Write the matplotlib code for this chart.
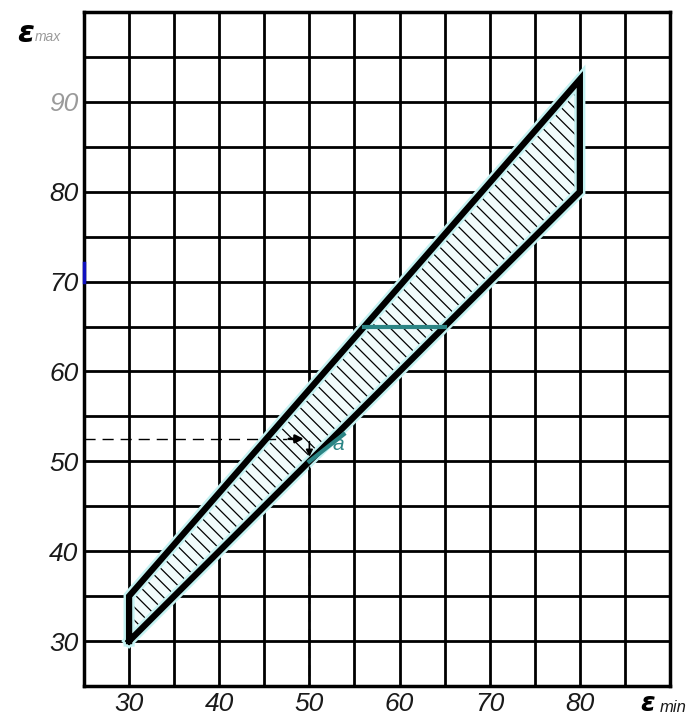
import numpy as np
import matplotlib
matplotlib.use('Agg')
import matplotlib.pyplot as plt
from matplotlib.patches import Polygon

# data
x_lims = [25, 90]
y_lims = [25, 100]
x_ticks = [30, 40, 50, 60, 70, 80]
y_ticks = [30, 40, 50, 60, 70, 80, 90]

# admissible zone: lower edge eps_max = eps_min, upper edge from (30,35) to (80,92.5)
zone_x = [30, 30, 80, 80]
zone_y = [30, 35, 92.5, 80]

# worked example
ex_eps_min = 50
ex_eps_max = 52.5
a_seg_x = [50, 53.8]
a_seg_y = [50, 53.0]
sect_y = 65          # teal section across the band
sect_x = [56.1, 65]

fontsize = 19
lab_font = ['Liberation Sans', 'DejaVu Sans']
teal = '#2b8585'

fig = plt.figure(figsize=(6.93, 7.18), dpi=100)
ax = fig.add_axes([84/693, 32/718, 586/693, 674/718])
ax.set_xlim(x_lims)
ax.set_ylim(y_lims)

# grid every 5 units
ax.set_xticks(np.arange(x_lims[0], x_lims[1] + 1, 5))
ax.set_yticks(np.arange(y_lims[0], y_lims[1] + 1, 5))
ax.set_xticklabels([str(int(v)) if v in x_ticks else '' for v in ax.get_xticks()])
ax.set_yticklabels([str(int(v)) if v in y_ticks else '' for v in ax.get_yticks()])
ax.grid(True, color='black', linewidth=2.0)
ax.set_axisbelow(True)
ax.tick_params(length=0, pad=4)
for lab in ax.get_xticklabels() + ax.get_yticklabels():
	lab.set_fontsize(fontsize)
	lab.set_style('italic')
	lab.set_family(lab_font)
	lab.set_color('#1a1a1a')
for lab in ax.get_yticklabels():
	if lab.get_text() == '90':
		lab.set_color('#9a9a9a')
for sp in ax.spines.values():
	sp.set_linewidth(2.5)

# zone fill + hatch
poly = Polygon(np.column_stack([zone_x, zone_y]), closed=True, facecolor='#f1fcfc',
			   edgecolor='none', zorder=2)
ax.add_patch(poly)
hatch_step = 1.45
for c in np.arange(60, 175, hatch_step):
	xs = np.array([20, 95])
	ln, = ax.plot(xs, -xs + c, color='black', linewidth=0.9, zorder=3)
	ln.set_clip_path(poly)

# thick edges with a light cyan halo
ax.plot(zone_x + [zone_x[0]], zone_y + [zone_y[0]], color='#c4f2f2', linewidth=8,
		solid_joinstyle='miter', zorder=4)
ax.plot(zone_x + [zone_x[0]], zone_y + [zone_y[0]], color='black', linewidth=4.5,
		solid_joinstyle='miter', zorder=5)

# worked example: dashed projection lines
ax.plot([x_lims[0], ex_eps_min - 2.5], [ex_eps_max, ex_eps_max], color='black',
		linewidth=1.0, dashes=(8, 5), zorder=6)
ax.plot([ex_eps_min, ex_eps_min], [ex_eps_min - 0.5, y_lims[0]], color='black',
		linewidth=1.0, dashes=(8, 5), zorder=6)
ax.annotate('', xy=(ex_eps_min - 0.3, ex_eps_max), xytext=(ex_eps_min - 2.6, ex_eps_max),
			arrowprops=dict(arrowstyle='-|>', color='black', lw=1.8, mutation_scale=12), zorder=7)
ax.annotate('', xy=(ex_eps_min, ex_eps_min + 0.2), xytext=(ex_eps_min, ex_eps_max),
			arrowprops=dict(arrowstyle='-|>', color='black', lw=1.2, mutation_scale=10), zorder=7)
ax.plot(a_seg_x, a_seg_y, color=teal, linewidth=3, zorder=7)
ax.plot(sect_x, [sect_y, sect_y], color=teal, linewidth=3, zorder=6)
ax.text(53.2, 51.9, 'a', color=teal, fontsize=15, style='italic', family=lab_font,
		ha='center', va='center', zorder=8)

# small blue mark on the left spine
ax.plot([x_lims[0], x_lims[0]], [70, 72.1], color='#1010c0', linewidth=2.5,
		clip_on=False, zorder=9)

# axis names
fig.text(17/693, 1 - 33/718, 'ε', fontsize=22, style='italic', fontweight='bold',
		 ha='left', va='center')
fig.text(35/693, 1 - 37/718, 'max', fontsize=10, style='italic', color='#9a9a9a',
		 ha='left', va='center', family=lab_font)
fig.text(640/693, 1 - 704/718, 'ε', fontsize=19, style='italic', fontweight='bold',
		 ha='left', va='center')
fig.text(660/693, 1 - 707/718, 'min', fontsize=12, style='italic', color='#1a1a1a',
		 ha='left', va='center', family=lab_font)

fig.savefig('out.png', dpi=100)
